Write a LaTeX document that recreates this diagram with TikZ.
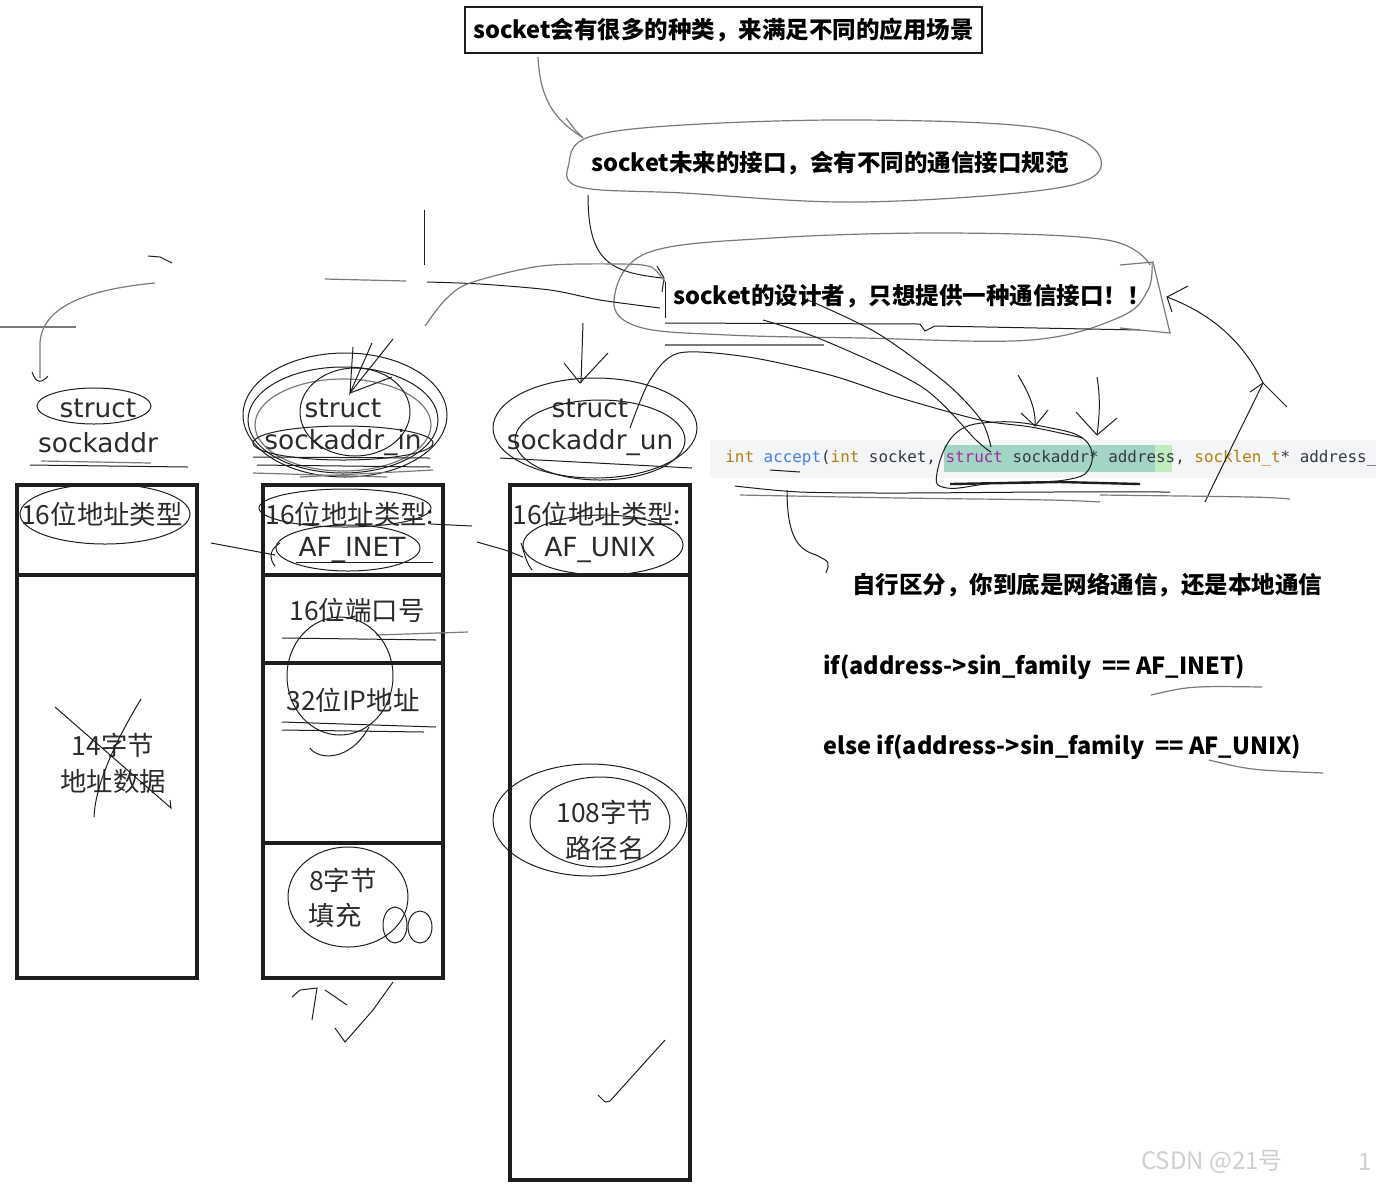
\documentclass[tikz,border=0pt]{standalone}
\usepackage{fontspec}
\setmainfont{DejaVu Sans}
\newfontfamily\cjk{Noto Sans CJK SC}
\newfontfamily\codefont{DejaVu Sans Mono}
\usetikzlibrary{positioning}

\definecolor{boxtext}{HTML}{2B2B2B}
\definecolor{inkdark}{HTML}{1E1E1E}
\definecolor{inkgray}{HTML}{7A7A7A}
\definecolor{codebg}{HTML}{F4F5F7}
\definecolor{hlteal}{HTML}{A2D5C6}
\definecolor{hlgreen}{HTML}{C3ECBE}
\definecolor{kwgold}{HTML}{B5800F}
\definecolor{kwblue}{HTML}{4B7FE6}
\definecolor{kwpink}{HTML}{A42AA3}
\definecolor{codetxt}{HTML}{383A42}
\definecolor{wmgray}{HTML}{CFCFCF}

\tikzset{
  note/.style={font=\cjk\bfseries\fontsize{11.75}{14}\selectfont, inner sep=0pt},
  boxlabel/.style={font=\cjk\fontsize{13.2}{16}\selectfont, text=boxtext, inner sep=0pt},
  structname/.style={font=\fontsize{13.2}{16}\selectfont, text=boxtext, inner sep=0pt},
  codeline/.style={font=\codefont\fontsize{7.95}{10}\selectfont, text=codetxt, inner sep=0pt},
  structbox/.style={line width=2.2pt, draw=inkdark},
  pen/.style={draw=inkdark, line width=0.5pt},
  pengray/.style={draw=inkgray, line width=0.6pt},
}

\begin{document}
\begin{tikzpicture}[x=0.5pt,y=-0.5pt]
\useasboundingbox (0,0) rectangle (1376,1185);

% Les trois structures
\draw[structbox] (17,485) rectangle (197,978);
\draw[structbox] (17,575) -- (197,575);
\draw[structbox] (263,485) rectangle (443,978);
\foreach \y in {575,663,843} \draw[structbox] (263,\y) -- (443,\y);
\draw[structbox] (510,485) rectangle (690,1180);
\draw[structbox] (510,575) -- (690,575);

\node[structname] (sa1) at (98,408) {struct};
\node[structname] (sa2) at (98,443) {sockaddr};
\node[boxlabel] (safamily) at (102,514) {16位地址类型};
\node[boxlabel] (sadata1) at (113,745) {14字节};
\node[boxlabel] (sadata2) at (113,781) {地址数据};

\node[structname] (in1) at (343,408) {struct};
\node[structname] (in2) at (343,443) {sockaddr\_in};
\node[boxlabel] (infamily) at (350,514) {16位地址类型:};
\node[structname] (ininet) at (352,550) {AF\_INET};
\node[boxlabel] (inport) at (357,610) {16位端口号};
\node[boxlabel] (inaddr) at (353,700) {32位IP地址};
\node[boxlabel] (inzero1) at (343,880) {8字节};
\node[boxlabel] (inzero2) at (335,915) {填充};

\node[structname] (un1) at (590,408) {struct};
\node[structname] (un2) at (590,443) {sockaddr\_un};
\node[boxlabel] (unfamily) at (597,514) {16位地址类型:};
\node[structname] (ununix) at (600,550) {AF\_UNIX};
\node[boxlabel] (unpath1) at (605,812) {108字节};
\node[boxlabel] (unpath2) at (605,848) {路径名};

% Les remarques
\node[note, draw=inkdark, line width=0.6pt, minimum width=258.5pt, minimum height=23pt] (kinds) at (723.5,30) {socket会有很多的种类，来满足不同的应用场景};
\node[note] (future) at (830,163) {socket未来的接口，会有不同的通信接口规范};
\node[note] (designer) at (912,296) {socket的设计者，只想提供一种通信接口！！};
\node[note, anchor=west] (distinguish) at (852,585) {自行区分，你到底是网络通信，还是本地通信};
\node[note, anchor=west] (ifinet) at (823,667) {if(address->sin\_family~~== AF\_INET)};
\node[note, anchor=west] (ifunix) at (823,747) {else if(address->sin\_family~~== AF\_UNIX)};

% La ligne de code
\fill[codebg] (710,440) rectangle (1376,478);
\fill[hlteal] (944,445) rectangle (1155,472);
\fill[hlgreen] (1155,445) rectangle (1172,472);
\node[codeline, anchor=west] (accept) at (725,458) {\textcolor{kwgold}{int} \textcolor{kwblue}{accept}(\textcolor{kwgold}{int} socket, \textcolor{kwpink}{struct} sockaddr* address, \textcolor{kwgold}{socklen\_t}* address\_};

\node[font=\cjk\fontsize{12}{14}\selectfont, text=wmgray] (csdn) at (1212,1162) {CSDN @21号};
\node[font=\cjk\fontsize{12}{14}\selectfont, text=wmgray] (pagenum) at (1365,1162) {1};

% Bulles et liens
\draw[pengray] plot[smooth cycle, tension=0.6] coordinates {(569,163) (589,137) (683,125) (862,120) (1040,128) (1100,157) (1063,187) (862,202) (683,193) (580,187)};
\draw[pengray] plot[smooth, tension=0.6] coordinates {(1150,265) (1107,240) (951,233) (772,238) (647,253) (614,300) (639,327) (728,335) (862,338) (1031,340) (1120,317) (1148,290) (1152,262)};
\draw[pen] (665,282) -- (665,318);
\draw[pen] (665,323) -- (920,324) -- (925,331) -- (935,326) -- (1140,330);
\draw[pengray] (1120,265) -- (1153,262) -- (1170,333) -- (1120,328);
\draw[pengray] (665,345) -- (824,345);

\coordinate (kindsfoot) at (538,57);
\coordinate (futurein) at (582,137);
\draw[pengray] (kindsfoot) .. controls (540,100) and (555,120) .. (futurein);
\draw[pengray] (566,118) -- (576,131) -- (583,138);
\coordinate (futurefoot) at (588,195);
\coordinate (designerin) at (662,278);
\draw[pen] (futurefoot) .. controls (588,262) and (610,272) .. (designerin);
\draw[pen] (657,266) -- (664,278) -- (662,292);

% Gribouillis en haut a gauche
\draw[pengray] (155,283) .. controls (80,290) and (40,310) .. (40,345) -- (40,378);
\draw[pen] (32,372) .. controls (36,384) and (42,383) .. (48,376);
\draw[pengray] (0,327) -- (76,327);
\draw[pen] (148,256) -- (160,257) -- (172,263);
\draw[pen] (424,210) -- (424,265);
\draw[pengray] (325,279) -- (406,281);
\draw[pen] plot[smooth] coordinates {(427,282) (480,284) (550,290) (600,300) (660,308)};
\draw[pengray] plot[smooth] coordinates {(425,326) (445,300) (470,283) (541,266) (620,264) (651,267) (665,282)};

% Colonne 1
\draw[pen] (94,406) ellipse (57 and 18);
\draw[pen] (30,465) -- (188,467);
\draw[pengray] (41,461) -- (151,463);
\draw[pen] (105,514) ellipse (85 and 30);
\draw[pen] (55,707) -- (171,808) -- (170,800);
\draw[pen] (141,699) .. controls (110,750) and (95,790) .. (94,817);

% Colonne 2
\draw[pen] (345,415) ellipse (102 and 62);
\draw[pen] (343,420) ellipse (95 and 53);
\draw[pengray] (343,425) ellipse (88 and 46);
\draw[pen] (355,412) ellipse (55 and 44);
\draw[pen] (343,443) ellipse (90 and 17);
\draw[pen] (353,347) -- (350,393) -- (372,343);
\draw[pen] (350,393) -- (393,339);
\draw[pen] (350,393) -- (392,377);
\draw[pen] (253,457) -- (430,458);
\draw[pen] (257,465) -- (430,467);
\draw[pengray] (253,473) -- (387,477);
\draw[pengray] (300,477) -- (433,470);
\draw[pen] (211,543) -- (275,555);
\draw[pen] (280,543) .. controls (268,550) and (270,560) .. (275,566);
\draw[pen] (345,508) ellipse (86 and 19);
\draw[pen] (431,524) -- (472,526);
\draw[pen] (348,548) ellipse (72 and 23);
\draw[pen] (296,562) -- (433,562);
\draw[pen] (282,638) -- (436,640);
\draw[pengray] (376,635) -- (468,632);
\draw[pen] (340,676) ellipse (53 and 59);
\draw[pen] (310,748) .. controls (318,760) and (350,762) .. (369,727);
\draw[pen] (282,722) -- (436,727);
\draw[pen] (282,730) -- (424,732);
\draw[pen] (348,897) ellipse (60 and 50);
\draw[pen] (395,925) ellipse (12 and 18);
\draw[pen] (420,927) ellipse (12 and 16);
\draw[pen] (292,997) -- (300,990) -- (317,988) -- (312,1020);
\draw[pen] (325,990) -- (347,1005);
\draw[pen] (335,1028) -- (345,1042) -- (373,1010) -- (393,982);

% Colonne 3
\draw[pen] (583,323) -- (581,383);
\draw[pen] (564,363) -- (580,383) -- (608,353);
\draw[pen] (595,428) ellipse (102 and 50);
\draw[pen] (600,440) ellipse (85 and 40);
\draw[pen] (500,458) -- (692,468);
\draw[pen] (477,542) -- (505,550) -- (523,557);
\draw[pen] (521,543) .. controls (525,555) and (526,562) .. (532,570);
\draw[pen] (603,545) ellipse (80 and 30);
\draw[pen] (590,820) ellipse (97 and 56);
\draw[pen] (600,822) ellipse (70 and 45);
\draw[pen] (598,1095) -- (605,1102) -- (610,1101) -- (665,1040);

% Vers la ligne de code
\draw[pen] plot[smooth] coordinates {(630,428) (650,380) (679,353) (748,357) (830,375) (897,397) (980,420) (1031,427) (1083,438)};
\draw[pen] plot[smooth] coordinates {(763,320) (823,340) (922,387) (976,440) (991,452)};
\draw[pen] plot[smooth] coordinates {(808,300) (877,333) (946,383) (981,420) (991,447)};
\draw[pen] plot[smooth cycle, tension=0.7] coordinates {(937,473) (956,433) (996,422) (1046,427) (1085,440) (1090,467) (1065,480) (996,483) (947,488)};
\draw[pen] (1018,375) .. controls (1030,395) and (1036,410) .. (1035,426);
\draw[pen] (1021,413) -- (1035,426) -- (1048,410);
\draw[pen] (1097,377) .. controls (1101,400) and (1099,420) .. (1097,435);
\draw[pen] (1076,412) -- (1097,435) -- (1117,418);
\draw[pen] (1205,502) .. controls (1225,460) and (1250,410) .. (1263,383) .. controls (1245,345) and (1215,315) .. (1167,297);
\draw[pen] (1188,286) -- (1167,297) -- (1172,312);
\draw[pen] (1250,392) -- (1263,383) -- (1287,407);
\draw[pen] (770,470) -- (800,472);
\draw[pen] plot[smooth] coordinates {(735,486) (800,492) (900,493) (1050,492) (1170,492)};
\draw[pengray] plot[smooth] coordinates {(740,495) (900,498) (1050,500) (1100,502)};
\draw[pen, line width=1.2pt] (950,484) -- (1060,482) -- (1140,484);
\draw[pengray] plot[smooth] coordinates {(1100,495) (1250,497) (1290,499)};
\draw[pen] (787,490) .. controls (787,540) and (800,550) .. (816,555) .. controls (830,562) .. (826,573);

% Soulignements
\draw[pengray] (1151,695) .. controls (1190,686) .. (1262,687);
\draw[pengray] (1209,760) .. controls (1250,770) .. (1323,773);
\end{tikzpicture}
\end{document}
